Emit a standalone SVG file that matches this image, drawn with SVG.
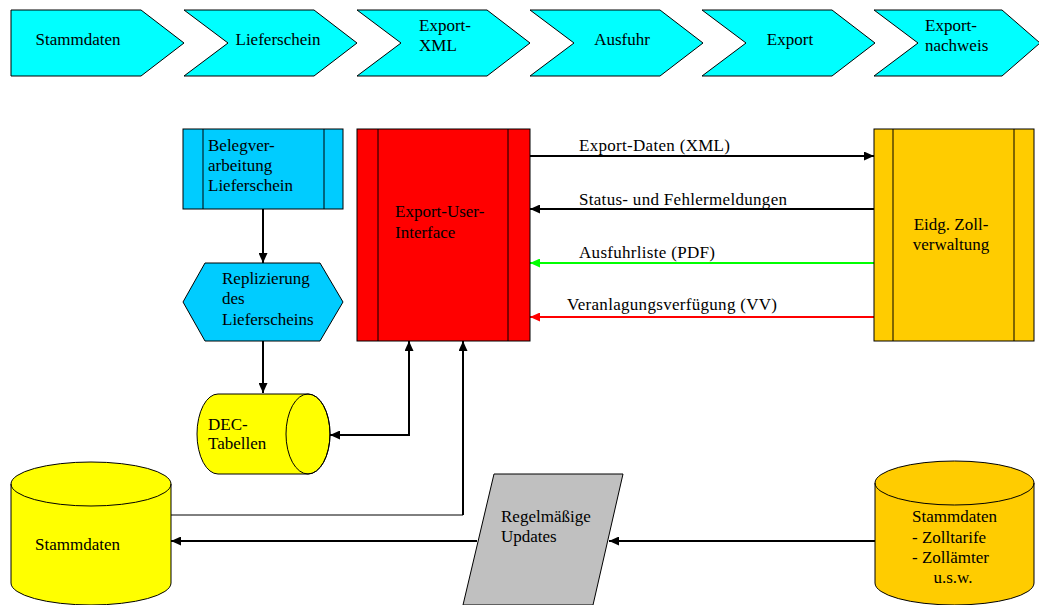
<svg xmlns="http://www.w3.org/2000/svg" width="1039" height="605" viewBox="0 0 1039 605" font-family="'Liberation Serif', 'Times New Roman', 'DejaVu Serif', serif">
<style>
text{font-family:"Liberation Serif","Times New Roman","DejaVu Serif",serif;font-size:17px;fill:#000}
.lbl{letter-spacing:0.3px}
.sh{stroke:#000;stroke-width:1}
.chev{fill:#00FFFF}
.blue{fill:#00CCFF}
.red{fill:#FF0000}
.gold{fill:#FFCC00}
.yel{fill:#FFFF00}
.grey{fill:#C0C0C0}
.ln{fill:none;stroke:#000;stroke-width:2}
.thin{fill:none;stroke:#000;stroke-width:1}
.mid{text-anchor:middle}
</style>
<defs>
<marker id="ah" markerUnits="userSpaceOnUse" markerWidth="10" markerHeight="9" refX="10" refY="4.5" orient="auto-start-reverse"><path d="M0,0 L10,4.5 L0,9 z" fill="#000"/></marker>
<marker id="ahg" markerUnits="userSpaceOnUse" markerWidth="10" markerHeight="9" refX="10" refY="4.5" orient="auto"><path d="M0,0 L10,4.5 L0,9 z" fill="#00FF00"/></marker>
<marker id="ahr" markerUnits="userSpaceOnUse" markerWidth="10" markerHeight="9" refX="10" refY="4.5" orient="auto"><path d="M0,0 L10,4.5 L0,9 z" fill="#FF0000"/></marker>
</defs>
<rect width="1039" height="605" fill="#fff"/>

<g id="chev-stammdaten"><polygon class="chev sh" points="11,10 141,10 184,43 141,76 11,76"/><text x="78" y="45" class="mid">Stammdaten</text></g>
<g id="chev-lieferschein"><polygon class="chev sh" points="184,10 314,10 357,43 314,76 184,76 228,43"/><text x="278" y="45" class="mid">Lieferschein</text></g>
<g id="chev-exportxml"><polygon class="chev sh" points="357,10 487,10 530,43 487,76 357,76 401,43"/><text x="419" y="31">Export-</text><text x="419" y="51">XML</text></g>
<g id="chev-ausfuhr"><polygon class="chev sh" points="530,10 660,10 703,43 660,76 530,76 574,43"/><text x="622" y="45" class="mid">Ausfuhr</text></g>
<g id="chev-export"><polygon class="chev sh" points="702,10 832,10 875,43 832,76 702,76 746,43"/><text x="790" y="45" class="mid">Export</text></g>
<g id="chev-exportnachweis"><polygon class="chev sh" points="874,10 1002,10 1040,43 1002,76 874,76 918,43"/><text x="925" y="31">Export-</text><text x="925" y="51">nachweis</text></g>

<g id="connectors">
<path class="ln" d="M263,209 V263" marker-end="url(#ah)"/>
<path class="ln" d="M263,341 V393" marker-end="url(#ah)"/>
<path class="ln" d="M330,435 H409 V341" marker-start="url(#ah)" marker-end="url(#ah)"/>
<path class="thin" d="M171,515 H463"/>
<path class="ln" d="M463,515 V341" marker-end="url(#ah)"/>
<path class="ln" d="M530,156 H874" marker-end="url(#ah)"/>
<path class="ln" d="M874,209 H530" marker-end="url(#ah)"/>
<path d="M874,263 H530" fill="none" stroke="#00FF00" stroke-width="2" marker-end="url(#ahg)"/>
<path d="M874,317 H530" fill="none" stroke="#FF0000" stroke-width="2" marker-end="url(#ahr)"/>
<path class="ln" d="M477,541 H171" marker-end="url(#ah)"/>
<path class="ln" d="M875,541 H609" marker-end="url(#ah)"/>
<text class="lbl" x="579" y="151">Export-Daten (XML)</text>
<text class="lbl" x="579" y="205">Status- und Fehlermeldungen</text>
<text class="lbl" x="579" y="258">Ausfuhrliste (PDF)</text>
<text class="lbl" x="567" y="310">Veranlagungsverfügung (VV)</text>
</g>

<g id="belegverarbeitung">
<rect class="blue sh" x="183" y="129" width="160" height="80"/>
<line class="sh" x1="203" y1="129" x2="203" y2="209"/><line class="sh" x1="324" y1="129" x2="324" y2="209"/>
<text x="208" y="151">Belegver-</text><text x="208" y="171">arbeitung</text><text x="208" y="191">Lieferschein</text>
</g>

<g id="replizierung">
<polygon class="blue sh" points="205,263 320,263 343,302 320,341 205,341 183,302"/>
<text x="222" y="284">Replizierung</text><text x="222" y="304">des</text><text x="222" y="325">Lieferscheins</text>
</g>

<g id="dec-tabellen">
<path class="yel sh" d="M218,394 H308 A22,40 0 0 1 308,474 H218 A21,40 0 0 1 218,394 Z"/>
<ellipse class="sh" cx="308" cy="434" rx="22" ry="40" fill="none"/>
<text x="208" y="430">DEC-</text><text x="208" y="449">Tabellen</text>
</g>

<g id="export-user-interface">
<rect class="red sh" x="357" y="129" width="173" height="212"/>
<line class="sh" x1="378" y1="129" x2="378" y2="341"/><line class="sh" x1="508" y1="129" x2="508" y2="341"/>
<text x="395" y="217">Export-User-</text><text x="395" y="238">Interface</text>
</g>

<g id="eidg-zollverwaltung">
<rect class="gold sh" x="874" y="129" width="160" height="212"/>
<line class="sh" x1="893" y1="129" x2="893" y2="341"/><line class="sh" x1="1014" y1="129" x2="1014" y2="341"/>
<text x="951" y="230" class="mid">Eidg. Zoll-</text><text x="951" y="250" class="mid">verwaltung</text>
</g>

<g id="stammdaten-left">
<path class="yel sh" d="M11,484 A80,22 0 0 1 171,484 V583 A80,22 0 0 1 11,583 Z"/>
<path class="sh" fill="none" d="M11,484 A80,22 0 0 0 171,484"/>
<text x="35" y="550">Stammdaten</text>
</g>

<g id="regelmaessige-updates">
<polygon class="grey sh" points="494,474 623,474 593,605 463,605"/>
<text x="501" y="522">Regelmäßige</text><text x="501" y="542">Updates</text>
</g>

<g id="stammdaten-right">
<path class="gold sh" d="M875,483 A79.5,22 0 0 1 1034,483 V583 A79.5,22 0 0 1 875,583 Z"/>
<path class="sh" fill="none" d="M875,483 A79.5,22 0 0 0 1034,483"/>
<text x="912" y="522">Stammdaten</text><text x="912" y="543">- Zolltarife</text><text x="912" y="563">- Zollämter</text><text x="953" y="583" class="mid">u.s.w.</text>
</g>
</svg>
